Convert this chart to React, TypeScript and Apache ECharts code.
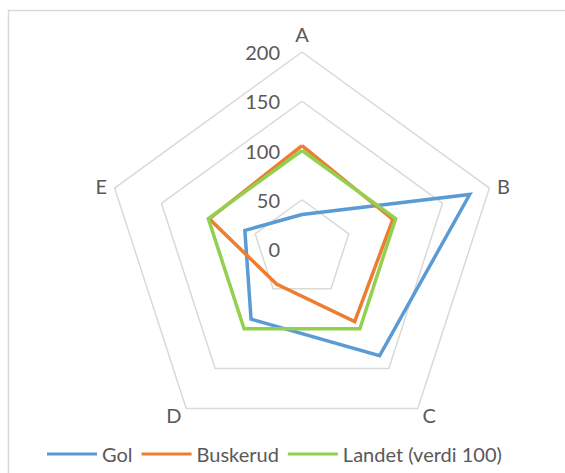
import React, { useEffect, useRef } from "react";
import * as echarts from "echarts";

const indicators = ["A", "B", "C", "D", "E"];
const gol = [35, 179, 134, 88, 61];
const buskerud = [105, 97, 91, 44, 99];
const landet = [100, 100, 100, 100, 100];
const seriesNames = ["Gol", "Buskerud", "Landet (verdi 100)"];
const colors = ["#5B9BD5", "#ED7D31", "#92D050"];
const axisMax = 200;
const tickStep = 50;

// ECharts radar runs counter-clockwise; reorder so A→B→C→D→E runs clockwise
const order = [0, 4, 3, 2, 1];
const reorder = (arr: any[]) => order.map((i) => arr[i]);

const FONT = "Lato, 'Liberation Sans', sans-serif";
const FS = 20;

export default function App() {
  const ref = useRef<HTMLDivElement>(null);
  useEffect(() => {
    document.body.style.margin = "0";
    const chart = echarts.init(ref.current!, null, { renderer: "svg" });
    const center = [302, 249];
    const radius = 197;
    const vals = [gol, buskerud, landet];
    chart.setOption({
      animation: false,
      backgroundColor: "#ffffff",
      textStyle: { fontFamily: FONT },
      graphic: [
        {
          type: "rect",
          shape: { x: 8.5, y: 10.5, width: 700, height: 700 },
          style: { fill: "none", stroke: "#d9d9d9", lineWidth: 1.5 },
          silent: true,
        },
      ],
      legend: {
        data: seriesNames,
        left: 42,
        top: 439,
        itemWidth: 50,
        itemHeight: 3,
        itemGap: 9,
        icon: "rect",
        textStyle: { color: "#595959", fontSize: FS, fontFamily: FONT },
      },
      radar: {
        center,
        radius,
        startAngle: 90,
        shape: "polygon",
        splitNumber: axisMax / tickStep,
        indicator: reorder(indicators).map((n) => ({ name: n, min: 0, max: axisMax })),
        axisName: { color: "#595959", fontSize: FS, fontFamily: FONT },
        nameGap: 8,
        axisLine: { show: false },
        axisTick: { show: false },
        axisLabel: { show: false },
        splitArea: { show: false },
        splitLine: { lineStyle: { color: "#d9d9d9", width: 1.5 } },
      },
      polar: { center, radius },
      angleAxis: { type: "value", min: 0, max: 360, startAngle: 90, show: false },
      radiusAxis: {
        type: "value",
        min: 0,
        max: axisMax,
        interval: tickStep,
        axisLine: { show: false },
        axisTick: { show: false },
        splitLine: { show: false },
        axisLabel: { color: "#595959", fontSize: FS, fontFamily: FONT, margin: 22 },
      },
      series: [
        {
          type: "radar",
          symbol: "none",
          data: seriesNames.map((name, k) => ({
            name,
            value: reorder(vals[k]),
            lineStyle: { color: colors[k], width: 3.5, join: "miter" },
            itemStyle: { color: colors[k] },
          })),
        },
      ],
    });
    return () => chart.dispose();
  }, []);
  return <div ref={ref} style={{ width: 565, height: 473 }} />;
}
